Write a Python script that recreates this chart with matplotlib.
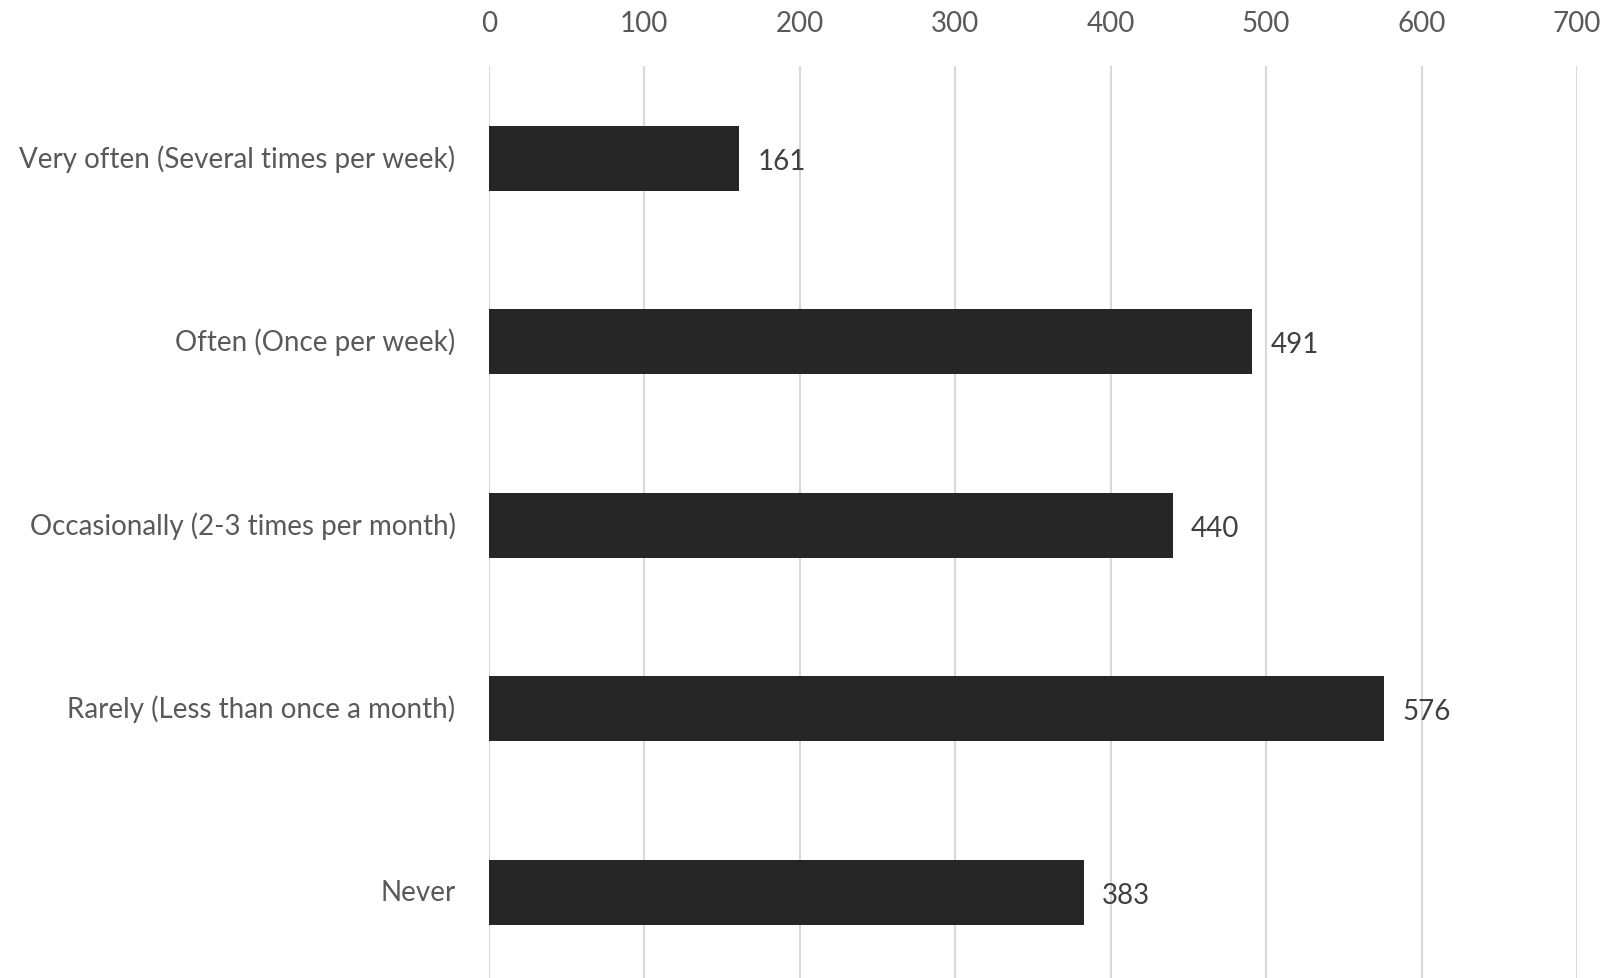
import matplotlib
matplotlib.use("Agg")
import matplotlib.pyplot as plt
import matplotlib.transforms as mtransforms

categories = [
    "Very often (Several times per week)",
    "Often (Once per week)",
    "Occasionally (2-3 times per month)",
    "Rarely (Less than once a month)",
    "Never",
]
values = [161, 491, 440, 576, 383]
x_ticks = [0, 100, 200, 300, 400, 500, 600, 700]

TEXT = "#595959"
BAR = "#262626"
GRID = "#d9d9d9"

plt.rcParams['font.family'] = ['Lato', 'DejaVu Sans']

fig = plt.figure(figsize=(16.12, 9.79), dpi=100)
ax = fig.add_axes([0.3033, -0.0061, 0.675, 0.9372])

y = list(range(len(categories)))
ax.barh(y, values, height=0.354, color=BAR, zorder=3)

for yi, v in zip(y, values):
    ax.annotate(str(v), (v, yi), xytext=(13, -2), textcoords="offset points",
                va="center", ha="left", fontsize=20, color="#404040")

ax.set_xlim(0, 700)
ax.set_ylim(len(categories) - 0.5, -0.5)
ax.set_xticks(x_ticks)
ax.set_yticks(y)
ax.set_yticklabels(categories)
ax.xaxis.tick_top()
ax.tick_params(axis="x", length=0, pad=22, labelsize=20, labelcolor=TEXT)
ax.tick_params(axis="y", length=0, pad=24, labelsize=20, labelcolor=TEXT)
ax.grid(axis="x", color=GRID, linewidth=1.5, zorder=0)
for s in ax.spines.values():
    s.set_visible(False)

# nudge category labels up slightly to sit centred on the bars
shift = mtransforms.ScaledTranslation(0, 2 / 72, fig.dpi_scale_trans)
for lbl in ax.get_yticklabels():
    lbl.set_transform(lbl.get_transform() + shift)

fig.savefig("out.png", dpi=100)
